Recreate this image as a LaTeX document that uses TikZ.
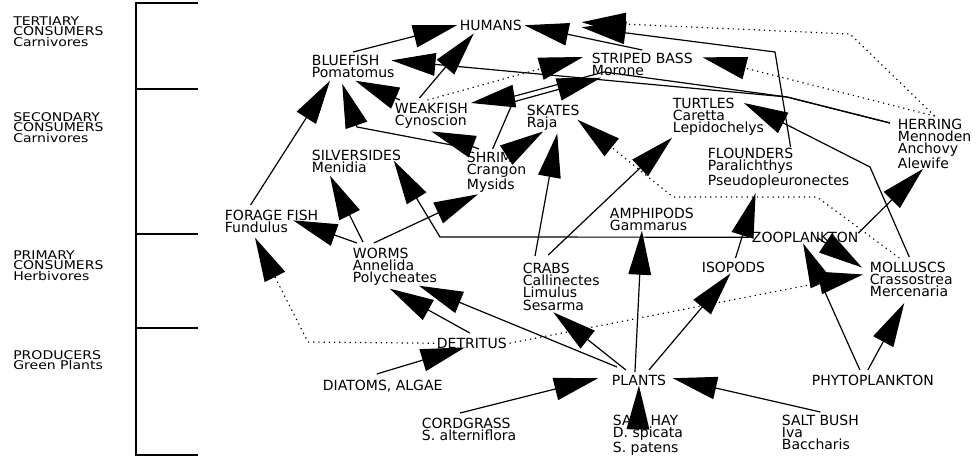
\documentclass[tikz,border=0pt]{standalone}
\usepackage{fontspec}
\setmainfont{DejaVu Sans}
\newfontfamily\levelfont[FakeStretch=1.17]{DejaVu Sans}
\usetikzlibrary{arrows.meta,calc}

\tikzset{
  taxon/.style={anchor=north west, inner sep=2pt, align=left,
    font=\fontsize{10.5}{9.2}\selectfont},
  level/.style={anchor=north west, inner sep=0pt, align=left,
    font=\levelfont\fontsize{9}{8}\selectfont},
  feeds/.style={line width=0.9pt, -{Triangle[length=33pt,width=17pt]}},
  feedsdot/.style={feeds, dash pattern=on 0.9pt off 3pt},
}

\begin{document}
\begin{tikzpicture}[x=0.75pt, y=-0.75pt]
\useasboundingbox (0,0) rectangle (977,459);
% trophic levels
\node[level] (tertiary) at (13,16) {TERTIARY\\CONSUMERS\\Carnivores};
\node[level] (secondary) at (13,112) {SECONDARY\\CONSUMERS\\Carnivores};
\node[level] (primary) at (13,250) {PRIMARY\\CONSUMERS\\Herbivores};
\node[level] (producers) at (13,350) {PRODUCERS\\Green Plants};
\draw[line width=0.9pt] (198,3) -- (136,3) -- (136,455) -- (198,455);
\foreach \y in {89,234,328}
  \draw[line width=0.9pt] (136,\y) -- (198,\y);
% organisms
\node[taxon] (humans) at (457,17) {HUMANS};
\node[taxon] (bluefish) at (309,52) {BLUEFISH\\Pomatomus};
\node[taxon] (stripedbass) at (589,50) {STRIPED BASS\\Morone};
\node[taxon] (weakfish) at (392,100) {WEAKFISH\\Cynoscion};
\node[taxon] (skates) at (524,102) {SKATES\\Raja};
\node[taxon] (turtles) at (670,95) {TURTLES\\Caretta\\Lepidochelys};
\node[taxon] (herring) at (895,116) {HERRING\\Mennoden\\Anchovy\\Alewife};
\node[taxon] (silversides) at (309,147) {SILVERSIDES\\Menidia};
\node[taxon] (shrimp) at (464,149) {SHRIMP\\Crangon\\Mysids};
\node[taxon] (flounders) at (705,145) {FLOUNDERS\\Paralichthys\\Pseudopleuronectes};
\node[taxon] (foragefish) at (222,207) {FORAGE FISH\\Fundulus};
\node[taxon] (amphipods) at (607,205) {AMPHIPODS\\Gammarus};
\node[taxon] (worms) at (350,245) {WORMS\\Annelida\\Polycheates};
\node[taxon] (crabs) at (520,260) {CRABS\\Callinectes\\Limulus\\Sesarma};
\node[taxon] (zooplankton) at (749,229) {ZOOPLANKTON};
\node[taxon] (isopods) at (699,259) {ISOPODS};
\node[taxon] (molluscs) at (867,259) {MOLLUSCS\\Crassostrea\\Mercenaria};
\node[taxon] (detritus) at (434,335) {DETRITUS};
\node[taxon] (diatoms) at (320,377) {DIATOMS, ALGAE};
\node[taxon] (plants) at (609,372) {PLANTS};
\node[taxon] (phytoplankton) at (809,372) {PHYTOPLANKTON};
\node[taxon] (cordgrass) at (419,415) {CORDGRASS\\S. alterniflora};
\node[taxon] (salthay) at (610,412) {SALT HAY\\D. spicata\\S. patens};
\node[taxon] (saltbush) at (779,412) {SALT BUSH\\Iva\\Baccharis};
% producers
\draw[feeds] ($(cordgrass.north)+(-9,-2)$) -- ($(plants.west)+(-11,-2)$);
\draw[feeds] ($(salthay.north)+(-10,18)$) -- ($(plants.south)+(0,-3)$);
\draw[feeds] (saltbush.north) -- ($(plants.east)+(4,-2)$);
\draw[feeds] ($(diatoms.north)+(-6,-3)$) -- ($(detritus.south)+(-7,-4)$);
% primary consumers
\draw[feeds] ($(plants.north west)+(8,-5)$) -- ($(worms.south)+(24,-3)$);
\draw[feeds] ($(plants.north)+(-13,-2)$) -- ($(crabs.south)+(-8,-1)$);
\draw[feeds] ($(plants.north)+(-4,0)$) -- ($(amphipods.south)+(-10,-3)$);
\draw[feeds] ($(plants.north)+(10,-2)$) -- ($(isopods.south)+(-3,-2)$);
\draw[feeds] ($(detritus.north)+(-2,-2)$) -- ($(worms.south)+(-5,0)$);
\draw[feedsdot] (detritus.west) -- (308,342) -- ($(foragefish.south west)+(33,2)$);
\draw[feedsdot] (detritus.east) -- ($(molluscs.west)+(-4,-5)$);
\draw[feeds] ($(phytoplankton.north)+(-13,-2)$) -- ($(zooplankton.south)+(-2,-2)$);
\draw[feeds] ($(phytoplankton.north)+(-5,-2)$) -- ($(molluscs.south)+(-7,3)$);
\draw[feeds] ($(zooplankton.south)+(12,-8)$) -- ($(molluscs.west)+(-5,-12)$);
% secondary consumers
\draw[feeds] ($(worms.north west)+(7,-2)$) -- ($(foragefish.east)+(-28,-1)$);
\draw[feeds] ($(worms.north west)+(13,-3)$) -- ($(silversides.south west)+(21,0)$);
\draw[feeds] ($(worms.north)+(-21,-2)$) -- ($(shrimp.south west)+(14,-1)$);
\draw[feeds] (zooplankton.west) -- (440,237) -- ($(silversides.south east)+(-10,-15)$);
\draw[feeds] ($(zooplankton.east)+(-3,-4)$) -- ($(herring.south west)+(28,-3)$);
\draw[feeds] ($(isopods.north)+(2,-1)$) -- ($(flounders.south)+(-23,2)$);
\draw[feeds] ($(crabs.north west)+(15,-4)$) -- ($(skates.south)+(4,0)$);
\draw[feeds] ($(crabs.north)+(-13,-5)$) -- ($(turtles.south west)+(2,-1)$);
\draw[feeds] ($(shrimp.north)+(13,4)$) -- ($(skates.south)+(-10,-2)$);
\draw[feeds] ($(shrimp.north west)+(15,0)$) -- (weakfish.south);
\draw[feedsdot] ($(molluscs.north)+(-12,-1)$) -- (817,197) -- (673,197) -- ($(skates.east)+(-5,2)$);
\draw[feeds] ($(molluscs.north)+(-2,-2)$) -- (870,167) -- ($(turtles.north east)+(-23,8)$);
% tertiary consumers
\draw[feeds] ($(foragefish.north)+(-21,-2)$) -- ($(bluefish.south west)+(21,0)$);
\draw[feeds] ($(shrimp.north west)+(-2,-2)$) -- (357,127) -- ($(bluefish.south)+(-11,3)$);
\draw[feeds] ($(weakfish.north west)+(8,0)$) -- ($(bluefish.south)+(2,0)$);
\draw[feeds] ($(herring.north west)+(-5,7)$) -- (787,97) -- ($(bluefish.east)+(-6,-6)$);
\draw[feeds] ($(herring.north west)+(-5,7)$) -- (787,97) -- (604,72) -- (515,96) -- ($(weakfish.north east)+(0,3)$);
\draw[feeds] ($(shrimp.north)+(-4,0)$) -- (513,102) -- ($(stripedbass.south west)+(12,-1)$);
\draw[feedsdot] ($(weakfish.north)+(-4,0)$) -- ($(stripedbass.north west)+(-6,7)$);
\draw[feedsdot] (herring.north) -- ($(stripedbass.east)+(7,-7)$);
\draw[feeds] (bluefish.north) -- (humans.west);
\draw[feeds] ($(weakfish.north)+(-12,-2)$) -- ($(humans.south)+(-17,0)$);
\draw[feeds] (stripedbass.north) -- (humans.east);
\draw[feedsdot] (herring.north) -- (850,34) -- ($(humans.east)+(57,-3)$);
\draw[feeds] ($(flounders.north)+(12,2)$) -- (775,52) -- ($(humans.east)+(57,2)$);
\end{tikzpicture}
\end{document}
